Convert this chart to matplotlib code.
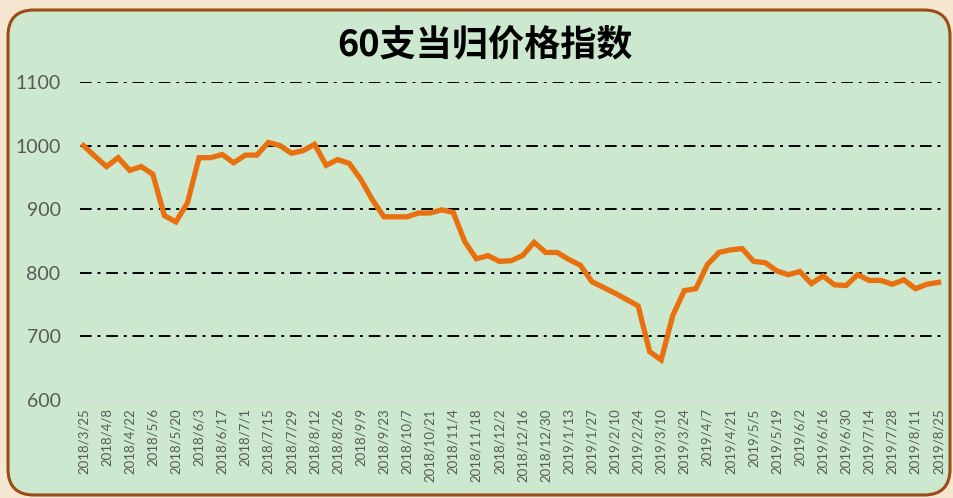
import numpy as np
import pandas as pd
import matplotlib
matplotlib.use("Agg")
import matplotlib.pyplot as plt
from matplotlib.patches import FancyBboxPatch

# Weekly index values, 2018/3/25 .. 2019/8/25
dates = pd.date_range("2018-03-25", "2019-08-25", freq="7D")
labels = [f"{d.year}/{d.month}/{d.day}" for d in dates]
values = [1000, 983, 967, 981, 961, 967, 955, 890, 880, 910,
          981, 981, 986, 973, 985, 985, 1005, 1000, 988, 992,
          1002, 969, 978, 972, 947, 915, 888, 888, 888, 894,
          894, 899, 895, 849, 822, 827, 818, 819, 827, 848,
          832, 832, 821, 812, 786, 777, 768, 758, 748, 676,
          663, 733, 772, 775, 813, 832, 836, 838, 818, 816,
          803, 797, 802, 783, 795, 781, 780, 797, 788, 788,
          782, 789, 775, 782, 785]
yticks = [600, 700, 800, 900, 1000, 1100]
title = "60支当归价格指数"

W, H = 954, 498
fig = plt.figure(figsize=(W / 100, H / 100), dpi=100)
fig.patch.set_facecolor("#F4E6CF")

# background panel with rounded brown border (pixel coords)
bg = fig.add_axes([0, 0, 1, 1])
bg.set_xlim(0, W)
bg.set_ylim(H, 0)
bg.axis("off")
bg.add_patch(FancyBboxPatch((8, 10), 942, 485,
                            boxstyle="round,pad=0,rounding_size=26",
                            facecolor="#CCE8CE", edgecolor="#9C4A17", linewidth=2.2))

ax = fig.add_axes([80 / W, (H - 400) / H, 862 / W, 318 / H])
ax.set_facecolor("none")
x = np.arange(len(values))
ax.plot(x, values, color="#E8700F", linewidth=3.8, solid_joinstyle="miter", zorder=3)

ax.set_ylim(600, 1100)
ax.set_xlim(-0.3, len(values) - 0.7)
ax.set_yticks(yticks)
ax.set_yticklabels([str(v) for v in yticks], fontsize=14, color="#595959", family="Lato")
for v in yticks[1:]:
    ax.axhline(v, color="black", linestyle=(0, (6, 3, 1.5, 3)), linewidth=1.4, zorder=1)

ax.set_xticks(x[::2])
ax.set_xticklabels(labels[::2], rotation=90, fontsize=9.5, color="#595959", family="Lato")
ax.set_xticks(x, minor=True)
ax.tick_params(axis="y", length=0, pad=14)
ax.tick_params(axis="x", which="both", length=4, color="#D9D9D9", pad=2)
for s in ["top", "right", "left"]:
    ax.spines[s].set_visible(False)
ax.spines["bottom"].set_color("#D9D9D9")
ax.spines["bottom"].set_linewidth(1)

fig.text(485 / W, 1 - 45 / H, title, ha="center", va="center", fontsize=26,
         fontweight="bold", family=["Noto Sans CJK SC", "DejaVu Sans"], color="black")

fig.savefig("out.png", dpi=100)
